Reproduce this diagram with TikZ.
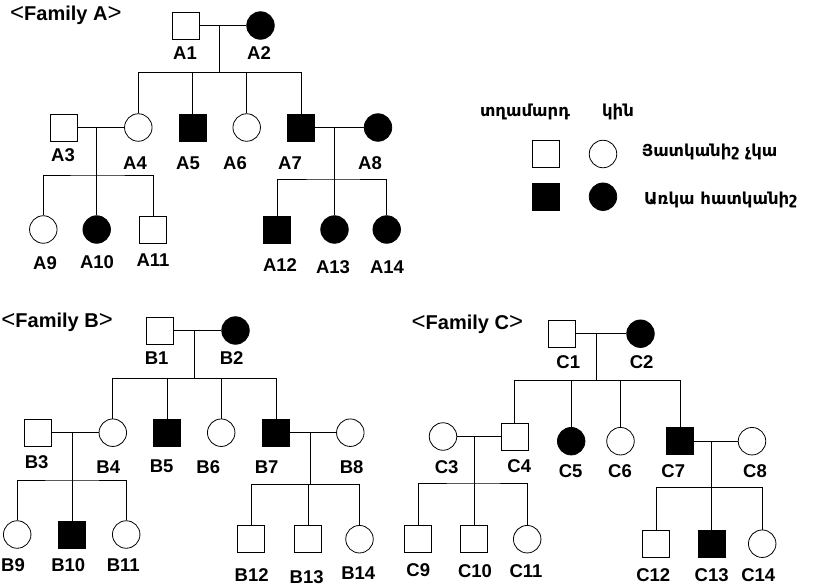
\documentclass[tikz,border=0pt]{standalone}
\usepackage{fontspec}
\setmainfont{Liberation Sans}
\newfontfamily\armfont{DejaVu Sans}
\tikzset{
  male/.style={draw, rectangle, minimum size=27pt, inner sep=0pt, line width=0.8pt},
  female/.style={draw, circle, minimum size=27.5pt, inner sep=0pt, line width=0.8pt},
  ill/.style={fill=black},
  link/.style={line width=0.8pt},
  lbl/.style={font=\fontsize{18.5}{18.5}\selectfont\bfseries, inner sep=0pt},
  famname/.style={font=\fontsize{20}{20}\selectfont\bfseries, inner sep=0pt},
  legtext/.style={font=\armfont\bfseries\fontsize{16.5}{16.5}\selectfont, inner sep=0pt},
}
\newcommand{\lt}{{\fontsize{24}{24}\selectfont\mdseries<}}
\newcommand{\gt}{{\fontsize{24}{24}\selectfont\mdseries>}}
\begin{document}
\begin{tikzpicture}[x=1pt, y=-1pt]
\useasboundingbox (0,0) rectangle (815,587);

% family A
\node[famname, anchor=west] (famA) at (10,15) {\lt Family A\gt};
\node[male] (A1) at (185.5,25.5) {};
\node[female,ill] (A2) at (260.5,25.5) {};
\node[male] (A3) at (63.7,127.5) {};
\node[female] (A4) at (138.3,127.5) {};
\node[male,ill] (A5) at (192.7,127.5) {};
\node[female] (A6) at (246.7,127.5) {};
\node[male,ill] (A7) at (301,127.5) {};
\node[female,ill] (A8) at (378,127.5) {};
\node[female] (A9) at (43.3,229.5) {};
\node[female,ill] (A10) at (96.7,229.5) {};
\node[male] (A11) at (153,229.5) {};
\node[male,ill] (A12) at (277,229.5) {};
\node[female,ill] (A13) at (334.5,229.5) {};
\node[female,ill] (A14) at (386.7,229.5) {};

\coordinate (mA1) at (219.3,25.5);
\coordinate (sA1) at (219.3,72.3);
\coordinate (mA3) at (96.7,127.5);
\coordinate (sA3) at (96.7,175);
\coordinate (mA7) at (334.5,127.5);
\coordinate (sA7) at (334.5,179);

\draw[link] (A1) -- (A2);
\draw[link] (mA1) -- (sA1);
\draw[link] (A4) |- (sA1) -| (A7);
\draw[link] (A5) -- (A5 |- sA1);
\draw[link] (A6) -- (A6 |- sA1);
\draw[link] (A3) -- (A4);
\draw[link] (mA3) -- (A10);
\draw[link] (A9) |- (sA3) -| (A11);
\draw[link] (A7) -- (A8);
\draw[link] (mA7) -- (A13);
\draw[link] (A12) |- (sA7) -| (A14);

\node[lbl] (lA1) at (185,53) {A1};
\node[lbl] (lA2) at (259,53) {A2};
\node[lbl] (lA3) at (63,155) {A3};
\node[lbl] (lA4) at (135,163) {A4};
\node[lbl] (lA5) at (188,163) {A5};
\node[lbl] (lA6) at (235,163) {A6};
\node[lbl] (lA7) at (290,163) {A7};
\node[lbl] (lA8) at (370,163) {A8};
\node[lbl] (lA9) at (45,263) {A9};
\node[lbl] (lA10) at (97,262) {A10};
\node[lbl] (lA11) at (153,260) {A11};
\node[lbl] (lA12) at (280,265) {A12};
\node[lbl] (lA13) at (333,267) {A13};
\node[lbl] (lA14) at (387,267) {A14};

% legend
\node[legtext] (hMale) at (525,112) {տղամարդ};
\node[legtext] (hFemale) at (618,112) {կին};
\node[male] (Lm0) at (545.5,154) {};
\node[female] (Lf0) at (603,154) {};
\node[male,ill] (Lm1) at (545.5,196.7) {};
\node[female,ill] (Lf1) at (603,196.7) {};
\node[legtext, anchor=west] (Lt0) at (641.7,152) {Յատկանիշ չկա};
\node[legtext, anchor=west] (Lt1) at (644,200) {Առկա հատկանիշ};

% family B
\node[famname, anchor=east] (famB) at (113,322) {\lt Family B\gt};
\node[male] (B1) at (160.3,330.5) {};
\node[female,ill] (B2) at (235.5,330.5) {};
\node[male] (B3) at (37.8,432.7) {};
\node[female] (B4) at (112.8,432.7) {};
\node[male,ill] (B5) at (167,432.7) {};
\node[female] (B6) at (221.2,432.7) {};
\node[male,ill] (B7) at (276.2,432.7) {};
\node[female] (B8) at (350.3,432.7) {};
\node[female] (B9) at (17.2,534.5) {};
\node[male,ill] (B10) at (72.3,534.5) {};
\node[female] (B11) at (126.2,534.5) {};
\node[male] (B12) at (251.3,539.2) {};
\node[male] (B13) at (308,539.2) {};
\node[female] (B14) at (359.5,539.2) {};

\coordinate (mB1) at (194.3,330.5);
\coordinate (sB1) at (194.3,378.3);
\coordinate (mB3) at (72.3,432.7);
\coordinate (sB3) at (72.3,480);
\coordinate (mB7) at (310,432.7);
\coordinate (sB7) at (310,484.3);

\draw[link] (B1) -- (B2);
\draw[link] (mB1) -- (sB1);
\draw[link] (B4) |- (sB1) -| (B7);
\draw[link] (B5) -- (B5 |- sB1);
\draw[link] (B6) -- (B6 |- sB1);
\draw[link] (B3) -- (B4);
\draw[link] (mB3) -- (B10);
\draw[link] (B9) |- (sB3) -| (B11);
\draw[link] (B7) -- (B8);
\draw[link] (mB7) -- (sB7);
\draw[link] (B12) |- (sB7) -| (B14);
\draw[link] (B13) -- (B13 |- sB7);

\node[lbl] (lB1) at (156.7,358.3) {B1};
\node[lbl] (lB2) at (231.7,358.3) {B2};
\node[lbl] (lB3) at (36.7,461.7) {B3};
\node[lbl] (lB4) at (108.3,466.7) {B4};
\node[lbl] (lB5) at (161.7,466.7) {B5};
\node[lbl] (lB6) at (208.3,466.7) {B6};
\node[lbl] (lB7) at (266.7,466.7) {B7};
\node[lbl] (lB8) at (351.7,466.7) {B8};
\node[lbl] (lB9) at (13,565) {B9};
\node[lbl] (lB10) at (68.3,565) {B10};
\node[lbl] (lB11) at (123.3,565) {B11};
\node[lbl] (lB12) at (251.7,575) {B12};
\node[lbl] (lB13) at (306.7,576.7) {B13};
\node[lbl] (lB14) at (358.3,573.3) {B14};

% family C
\node[famname, anchor=west] (famC) at (411.5,324) {\lt Family C\gt};
\node[male] (C1) at (562.2,333.7) {};
\node[female,ill] (C2) at (640.5,333.7) {};
\node[female] (C3) at (443,436.5) {};
\node[male] (C4) at (514.5,436.5) {};
\node[female,ill] (C5) at (571.2,441.2) {};
\node[female] (C6) at (620.5,441.2) {};
\node[male,ill] (C7) at (680.3,441.2) {};
\node[female] (C8) at (752,441.2) {};
\node[male] (C9) at (418.3,539.2) {};
\node[male] (C10) at (474,539.2) {};
\node[female] (C11) at (527.2,539.2) {};
\node[male] (C12) at (656.2,543.7) {};
\node[male,ill] (C13) at (711.7,543.7) {};
\node[female] (C14) at (762.2,543.7) {};

\coordinate (mC1) at (596,333.7);
\coordinate (sC1) at (596,380.7);
\coordinate (mC3) at (474,436.5);
\coordinate (sC3) at (474,483);
\coordinate (mC7) at (711.7,441.2);
\coordinate (sC7) at (711.7,487.3);

\draw[link] (C1) -- (C2);
\draw[link] (mC1) -- (sC1);
\draw[link] (C4) |- (sC1) -| (C7);
\draw[link] (C5) -- (C5 |- sC1);
\draw[link] (C6) -- (C6 |- sC1);
\draw[link] (C3) -- (C4);
\draw[link] (mC3) -- (C10);
\draw[link] (C9) |- (sC3) -| (C11);
\draw[link] (C7) -- (C8);
\draw[link] (mC7) -- (C13);
\draw[link] (C12) |- (sC7) -| (C14);

\node[lbl] (lC1) at (568.3,361.7) {C1};
\node[lbl] (lC2) at (641.7,361.7) {C2};
\node[lbl] (lC3) at (446.7,466.7) {C3};
\node[lbl] (lC4) at (519.3,465.7) {C4};
\node[lbl] (lC5) at (570.7,470.7) {C5};
\node[lbl] (lC6) at (620,470.7) {C6};
\node[lbl] (lC7) at (673.3,470.7) {C7};
\node[lbl] (lC8) at (755,470.7) {C8};
\node[lbl] (lC9) at (418.3,570) {C9};
\node[lbl] (lC10) at (475,570.7) {C10};
\node[lbl] (lC11) at (526,570.7) {C11};
\node[lbl] (lC12) at (653.3,575) {C12};
\node[lbl] (lC13) at (711.7,575) {C13};
\node[lbl] (lC14) at (758.3,575) {C14};
\end{tikzpicture}
\end{document}
